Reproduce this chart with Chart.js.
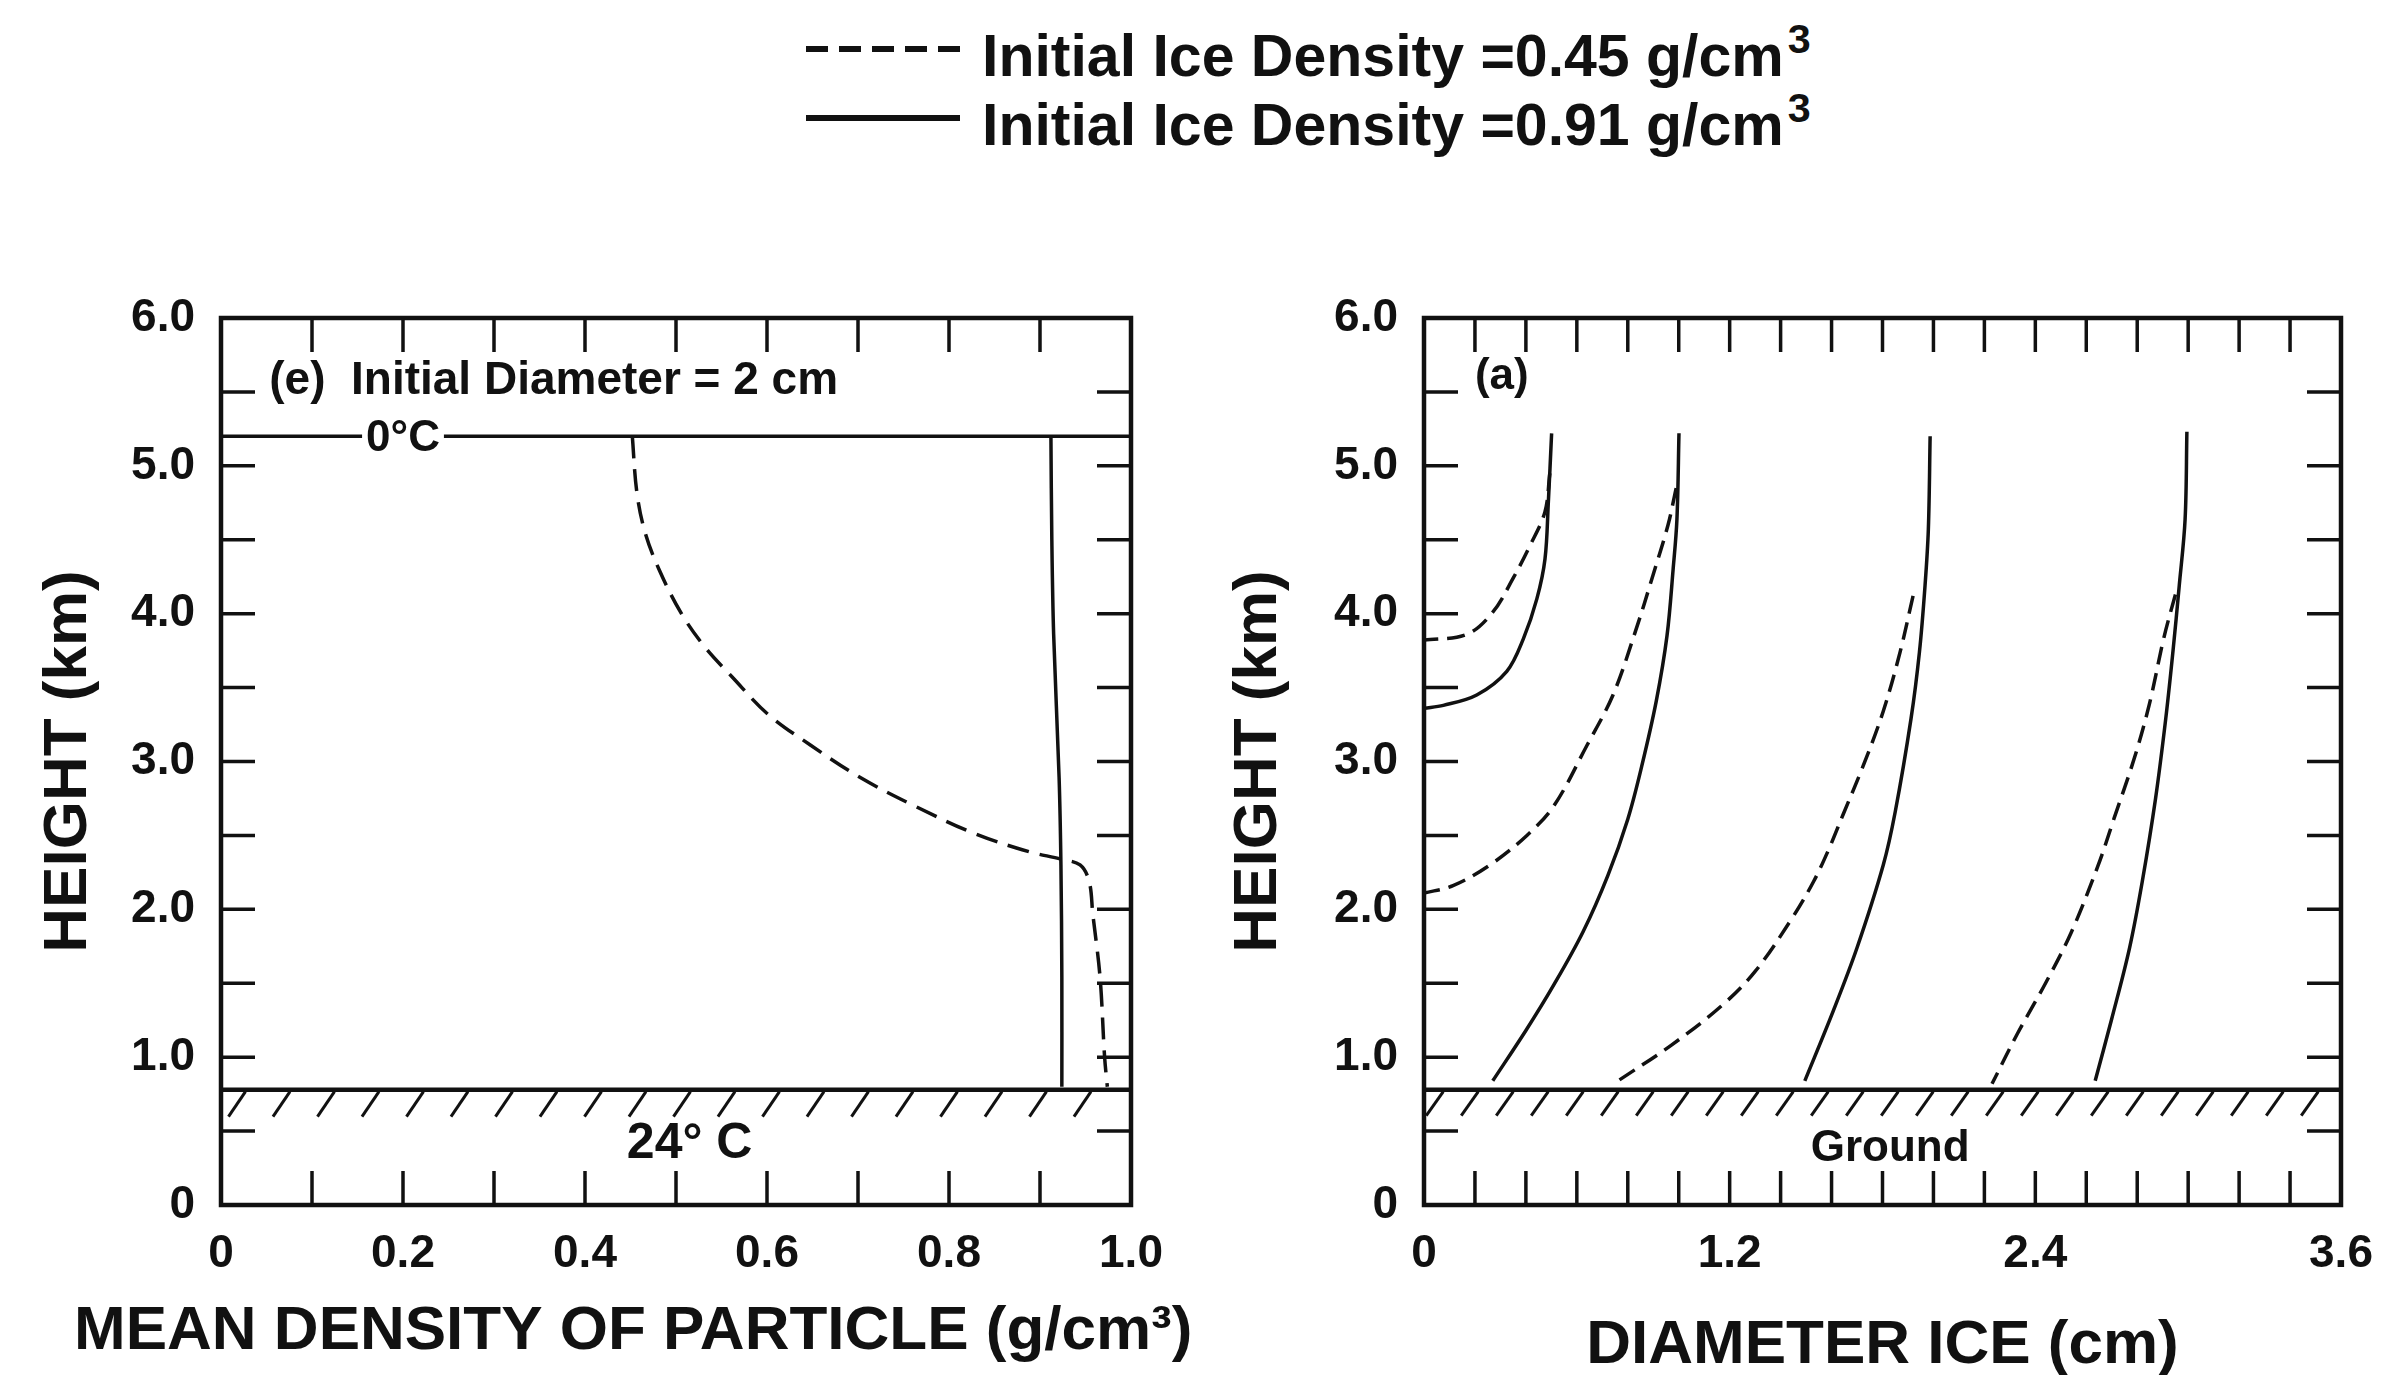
<!DOCTYPE html>
<html>
<head>
<meta charset="utf-8">
<script src="https://cdn.jsdelivr.net/npm/chart.js@4.4.1/dist/chart.umd.min.js"></script>
<style>
html,body{margin:0;padding:0;background:#fff;width:2407px;height:1375px;overflow:hidden}
#leftWrap{position:absolute;left:0;top:0;width:1190px;height:1375px}
#rightWrap{position:absolute;left:1190px;top:0;width:1217px;height:1375px}
.lgrow{position:absolute;left:806px;height:70px;}
.lgrow svg{position:absolute;left:0;top:0}
.lgtext{position:absolute;left:176px;top:0;white-space:nowrap;font:bold 59px 'Liberation Sans';line-height:60px;color:#111}
.lgtext sup{font-size:0.7em;vertical-align:0.55em;line-height:0;margin-left:4px}
</style>
</head>
<body>
<div class="lgrow" style="top:26px">
  <svg width="160" height="60" style="top:0"><line x1="0" y1="23" x2="154" y2="23" stroke="#111" stroke-width="6" stroke-dasharray="22 11"/></svg>
  <div class="lgtext">Initial Ice Density =0.45 g/cm<sup>3</sup></div>
</div>
<div class="lgrow" style="top:95px">
  <svg width="160" height="60" style="top:0"><line x1="0" y1="23" x2="154" y2="23" stroke="#111" stroke-width="6"/></svg>
  <div class="lgtext">Initial Ice Density =0.91 g/cm<sup>3</sup></div>
</div>
<div id="leftWrap"><canvas id="cLeft" width="1190" height="1375"></canvas></div>
<div id="rightWrap"><canvas id="cRight" width="1217" height="1375"></canvas></div>
<script>
// ---------- DATA ----------
// Panel (e): mean density of particle vs height, initial diameter 2 cm
const leftHeight045 = [5.2, 4.82, 4.55, 4.29, 4.0, 3.78, 3.57, 3.32, 3.11, 2.89, 2.70, 2.51, 2.39, 2.34, 2.30, 2.19, 1.97, 1.54, 1.0, 0.80];
const leftDensity045 = [0.452, 0.457, 0.466, 0.482, 0.506, 0.531, 0.562, 0.601, 0.648, 0.703, 0.762, 0.829, 0.888, 0.923, 0.944, 0.954, 0.958, 0.966, 0.971, 0.974];
const leftHeight091 = [5.2, 4.5, 3.86, 2.89, 2.3, 1.54, 0.80];
const leftDensity091 = [0.912, 0.913, 0.915, 0.921, 0.923, 0.924, 0.924];

// Panel (a): ice diameter vs height, four initial diameters
const p1Height091 = [5.22, 4.75, 4.37, 4.10, 3.83, 3.61, 3.45, 3.38, 3.36];
const p1Diam091   = [0.501, 0.488, 0.475, 0.443, 0.39, 0.325, 0.207, 0.076, 0.0];
const p1Height045 = [4.95, 4.69, 4.46, 4.24, 4.01, 3.86, 3.82];
const p1Diam045   = [0.494, 0.475, 0.416, 0.35, 0.27, 0.168, 0.0];

const p2Height091 = [5.22, 4.64, 4.30, 3.85, 3.41, 2.97, 2.61, 2.23, 1.85, 1.49, 1.18, 0.84];
const p2Diam091   = [1.001, 0.993, 0.978, 0.954, 0.912, 0.855, 0.80, 0.722, 0.625, 0.51, 0.40, 0.27];
const p2Height045 = [4.85, 4.6, 4.26, 3.88, 3.45, 3.11, 2.70, 2.5, 2.30, 2.16, 2.11];
const p2Diam045   = [0.99, 0.958, 0.899, 0.83, 0.742, 0.64, 0.51, 0.404, 0.259, 0.114, 0.0];

const p3Height091 = [5.2, 4.57, 4.19, 3.74, 3.29, 2.66, 2.30, 1.74, 1.31, 0.84];
const p3Diam091   = [1.987, 1.98, 1.967, 1.945, 1.912, 1.85, 1.803, 1.70, 1.606, 1.495];
const p3Height045 = [4.12, 3.74, 3.34, 2.97, 2.64, 2.41, 2.19, 1.94, 1.58, 1.35, 1.08, 0.84];
const p3Diam045   = [1.92, 1.869, 1.803, 1.724, 1.645, 1.59, 1.53, 1.445, 1.30, 1.17, 0.97, 0.762];

const p4Height091 = [5.23, 4.64, 4.19, 3.74, 3.29, 2.75, 2.19, 1.74, 1.26, 0.84];
const p4Diam091   = [2.995, 2.988, 2.965, 2.94, 2.912, 2.872, 2.82, 2.77, 2.70, 2.635];
const p4Height045 = [4.13, 3.84, 3.39, 3.03, 2.62, 2.29, 1.84, 1.50, 1.16, 0.82];
const p4Diam045   = [2.95, 2.905, 2.848, 2.79, 2.71, 2.645, 2.54, 2.44, 2.33, 2.23];

// Tick labels
const heightTickLabels = ['0', '1.0', '2.0', '3.0', '4.0', '5.0', '6.0'];
const densityTickLabels = ['0', '0.2', '0.4', '0.6', '0.8', '1.0'];
const diameterTickLabels = ['0', '1.2', '2.4', '3.6'];

const seriesNames = ['Initial Ice Density =0.45 g/cm³', 'Initial Ice Density =0.91 g/cm³'];
const groundHeight = 0.78;
const freezingHeight = 5.2;

// ---------- HELPERS ----------
const INK = '#111';
const pts = (xs, ys) => xs.map((v, i) => ({x: v, y: ys[i]}));
const dashedDs = (xs, ys, dash) => ({label: seriesNames[0], data: pts(xs, ys), showLine: true, borderColor: INK, borderWidth: 3.5, borderDash: dash, pointRadius: 0, tension: 0.35, fill: false});
const solidDs = (xs, ys) => ({label: seriesNames[1], data: pts(xs, ys), showLine: true, borderColor: INK, borderWidth: 3.5, pointRadius: 0, tension: 0.35, fill: false});

const decorPlugin = {
  id: 'decor',
  afterDraw(chart, args, o) {
    const {ctx, chartArea: ca, scales: {x, y}} = chart;
    const line = (a, b, c, d) => { ctx.beginPath(); ctx.moveTo(a, b); ctx.lineTo(c, d); ctx.stroke(); };
    ctx.save();
    ctx.strokeStyle = INK; ctx.fillStyle = INK; ctx.lineCap = 'butt';
    // ground line + hatching
    const gy = y.getPixelForValue(o.ground);
    ctx.lineWidth = 4.5;
    line(ca.left, gy, ca.right, gy);
    ctx.lineWidth = 3;
    for (let px = ca.left + o.hatchGap * 0.55; px < ca.right - 2; px += o.hatchGap) {
      line(px - o.hatchDx, gy + o.hatchDy, px, gy + 2);
    }
    // freezing level with label
    if (o.freeze) {
      const fy = y.getPixelForValue(o.freeze.y);
      ctx.font = o.freeze.font;
      const cx = x.getPixelForValue(o.freeze.x);
      const w = ctx.measureText(o.freeze.text).width;
      ctx.lineWidth = 3.5;
      line(ca.left, fy, cx - w / 2 - 4, fy);
      line(cx + w / 2 + 4, fy, ca.right, fy);
      ctx.textAlign = 'center'; ctx.textBaseline = 'middle';
      ctx.fillText(o.freeze.text, cx, fy + 3);
    }
    // frame
    ctx.lineWidth = 4.5;
    ctx.strokeRect(ca.left, ca.top, ca.right - ca.left, ca.bottom - ca.top);
    // inward ticks
    ctx.lineWidth = 3.5;
    const tl = o.tickLen;
    const nx = Math.round((x.max - x.min) / o.xStep);
    for (let i = 1; i < nx; i++) {
      const px = x.getPixelForValue(x.min + i * o.xStep);
      line(px, ca.bottom, px, ca.bottom - tl);
      line(px, ca.top, px, ca.top + tl);
    }
    const ny = Math.round((y.max - y.min) / o.yStep);
    for (let i = 1; i < ny; i++) {
      const py = y.getPixelForValue(y.min + i * o.yStep);
      line(ca.left, py, ca.left + tl, py);
      line(ca.right, py, ca.right - tl, py);
    }
    // annotation texts
    o.texts.forEach(t => {
      ctx.font = t.font; ctx.textAlign = t.align; ctx.textBaseline = 'middle';
      ctx.fillText(t.text, x.getPixelForValue(t.x), y.getPixelForValue(t.y));
    });
    // wide axis title (wider than plot area, drawn unsqueezed)
    if (o.xTitle) {
      ctx.font = o.xTitle.font; ctx.textAlign = 'center'; ctx.textBaseline = 'middle';
      ctx.fillText(o.xTitle.text, x.getPixelForValue(o.xTitle.x), ca.bottom + o.xTitle.dy);
    }
    ctx.restore();
  }
};

const tickFont = {family: 'Liberation Sans', size: 46, weight: 'bold'};
const titleFont = {family: 'Liberation Sans', size: 62, weight: 'bold'};

function makeScales(xMax, xStep, xLabels, xTitle, yBoxWidth, xBoxHeight, xTitlePadBottom) {
  return {
    x: {
      type: 'linear', min: 0, max: xMax,
      ticks: {stepSize: xStep, autoSkip: false, maxRotation: 0, font: tickFont, color: INK, padding: 22,
              callback: (v, i) => xLabels[i]},
      grid: {display: false, drawTicks: false}, border: {display: false},
      title: {display: !!xTitle, text: xTitle || '', font: titleFont, color: INK, padding: {top: 0, bottom: xTitlePadBottom}},
      afterFit: s => { s.height = xBoxHeight; }
    },
    y: {
      type: 'linear', min: 0, max: 6,
      ticks: {stepSize: 1, autoSkip: false, font: tickFont, color: INK, padding: 26,
              callback: (v, i) => heightTickLabels[i]},
      grid: {display: false, drawTicks: false}, border: {display: false},
      title: {display: true, text: 'HEIGHT (km)', font: titleFont, color: INK, padding: {top: 32, bottom: 0}},
      afterFit: s => { s.width = yBoxWidth; }
    }
  };
}

const common = {responsive: false, animation: false, devicePixelRatio: 1, events: []};

new Chart(document.getElementById('cLeft'), {
  type: 'scatter',
  data: {datasets: [
    dashedDs(leftDensity045, leftHeight045, [22, 11]),
    solidDs(leftDensity091, leftHeight091)
  ]},
  options: Object.assign({}, common, {
    layout: {padding: {top: 318, right: 59, bottom: 0, left: 0}},
    scales: makeScales(1, 0.2, densityTickLabels, null, 221, 170, 4),
    plugins: {
      legend: {display: false}, tooltip: {enabled: false},
      decor: {
        ground: groundHeight, hatchGap: 44.5, hatchDx: 17, hatchDy: 27,
        tickLen: 34, xStep: 0.1, yStep: 0.5,
        freeze: {y: freezingHeight, x: 0.2, text: '0°C', font: 'bold 44px "Liberation Sans"'},
        xTitle: {text: 'MEAN DENSITY OF PARTICLE (g/cm³)', x: 0.453, dy: 127, font: 'bold 62px "Liberation Sans"'},
        texts: [
          {text: '(e)  Initial Diameter = 2 cm', x: 0.053, y: 5.57, align: 'left', font: 'bold 46px "Liberation Sans"'},
          {text: '24° C', x: 0.515, y: 0.41, align: 'center', font: 'bold 50px "Liberation Sans"'}
        ]
      }
    }
  }),
  plugins: [decorPlugin]
});

new Chart(document.getElementById('cRight'), {
  type: 'scatter',
  data: {datasets: [
    dashedDs(p1Diam045, p1Height045, [18, 9]),
    solidDs(p1Diam091, p1Height091),
    dashedDs(p2Diam045, p2Height045, [18, 9]),
    solidDs(p2Diam091, p2Height091),
    dashedDs(p3Diam045, p3Height045, [18, 9]),
    solidDs(p3Diam091, p3Height091),
    dashedDs(p4Diam045, p4Height045, [18, 9]),
    solidDs(p4Diam091, p4Height091)
  ]},
  options: Object.assign({}, common, {
    layout: {padding: {top: 318, right: 66, bottom: 0, left: 0}},
    scales: makeScales(3.6, 1.2, diameterTickLabels, 'DIAMETER ICE (cm)', 234, 170, -8),
    plugins: {
      legend: {display: false}, tooltip: {enabled: false},
      decor: {
        ground: groundHeight, hatchGap: 35, hatchDx: 17, hatchDy: 26,
        tickLen: 34, xStep: 0.2, yStep: 0.5,
        freeze: null, xTitle: null,
        texts: [
          {text: '(a)', x: 0.2, y: 5.6, align: 'left', font: 'bold 44px "Liberation Sans"'},
          {text: 'Ground', x: 1.83, y: 0.38, align: 'center', font: 'bold 44px "Liberation Sans"'}
        ]
      }
    }
  }),
  plugins: [decorPlugin]
});
</script>
</body>
</html>
